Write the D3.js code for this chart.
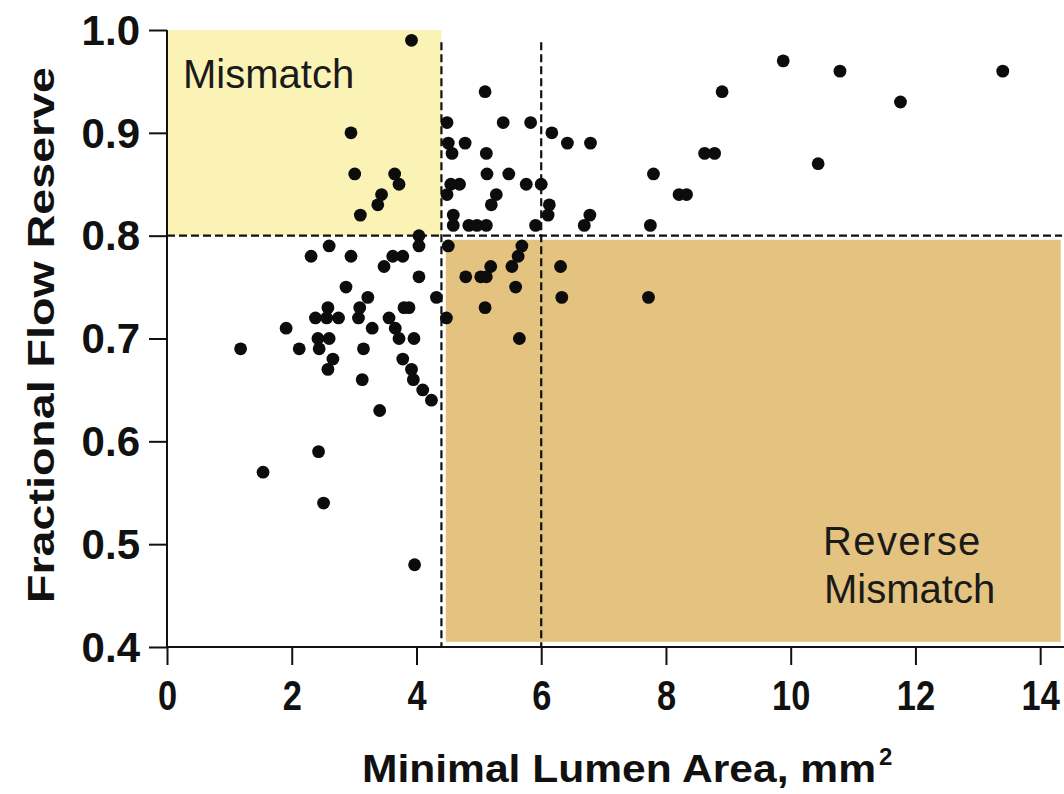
<!DOCTYPE html>
<html>
<head>
<meta charset="utf-8">
<script src="https://cdn.jsdelivr.net/npm/d3@7"></script>
<style>
  body { margin: 0; background: #fff; }
  svg { display: block; }
</style>
</head>
<body>
<div class="chart"></div>
<script>
var width = 1064
  , height = 794
  ;

// minimal lumen area (mm2) and fractional flow reserve, one entry per lesion
var mla = [
  3.92, 2.95, 3.01, 3.65, 3.72, 3.44, 3.38, 3.10, 4.04, 4.04,
  2.60, 5.10, 4.49, 5.39, 5.83, 6.17, 6.42, 6.79, 4.51, 4.78,
  4.57, 5.12, 5.13, 5.48, 7.80, 4.55, 4.69, 5.76, 6.00, 4.49,
  5.28, 5.20, 6.13, 6.78, 4.59, 6.11, 4.59, 4.84, 4.97, 5.12,
  5.91, 6.69, 7.75, 4.51, 5.69, 5.63, 3.78, 5.19, 5.53, 6.31,
  4.79, 5.03, 5.12, 4.04, 5.59, 6.33, 7.72, 4.32, 5.10, 3.80,
  3.88, 4.48, 5.65, 3.96, 2.31, 2.95, 3.62, 3.48, 2.87, 3.22,
  2.58, 3.09, 2.38, 2.56, 2.75, 3.07, 3.56, 1.91, 3.29, 3.66,
  2.42, 2.60, 3.72, 1.18, 2.12, 2.44, 3.15, 2.66, 3.78, 2.58,
  3.92, 3.13, 3.95, 4.10, 4.24, 3.41, 2.43, 1.54, 2.51, 3.97,
  9.88, 10.79, 13.40, 8.90, 11.76, 8.62, 8.78, 10.44, 8.21, 8.33
];
var ffr = [
  0.99, 0.90, 0.86, 0.86, 0.85, 0.84, 0.83, 0.82, 0.80, 0.79,
  0.79, 0.94, 0.91, 0.91, 0.91, 0.90, 0.89, 0.89, 0.89, 0.89,
  0.88, 0.88, 0.86, 0.86, 0.86, 0.85, 0.85, 0.85, 0.85, 0.84,
  0.84, 0.83, 0.83, 0.82, 0.82, 0.82, 0.81, 0.81, 0.81, 0.81,
  0.81, 0.81, 0.81, 0.79, 0.79, 0.78, 0.78, 0.77, 0.77, 0.77,
  0.76, 0.76, 0.76, 0.76, 0.75, 0.74, 0.74, 0.74, 0.73, 0.73,
  0.73, 0.72, 0.70, 0.70, 0.78, 0.78, 0.78, 0.77, 0.75, 0.74,
  0.73, 0.73, 0.72, 0.72, 0.72, 0.72, 0.72, 0.71, 0.71, 0.71,
  0.70, 0.70, 0.70, 0.69, 0.69, 0.69, 0.69, 0.68, 0.68, 0.67,
  0.67, 0.66, 0.66, 0.65, 0.64, 0.63, 0.59, 0.57, 0.54, 0.48,
  0.97, 0.96, 0.96, 0.94, 0.93, 0.88, 0.88, 0.87, 0.84, 0.84
];

var xTicks = [0, 2, 4, 6, 8, 10, 12, 14];
var yTicks = [0.4, 0.5, 0.6, 0.7, 0.8, 0.9, 1.0];

// shaded zones: [x0, x1, y0, y1] in data units
var mismatchZone = [0, 4.4, 0.8, 1.0];
var reverseZone = [4.47, 14.33, 0.405, 0.796];
var cutoffMla = [4.4, 6.0];
var cutoffFfr = 0.8;

var x = d3.scaleLinear().domain([0, 14.35]).range([167, 1062]);
var y = d3.scaleLinear().domain([0.4, 1.0]).range([647, 30]);

var svg = d3.select(".chart").append("svg")
  .attr("width", width)
  .attr("height", height);

function zone(z, fill) {
  svg.append("rect")
    .attr("x", x(z[0]))
    .attr("y", y(z[3]))
    .attr("width", x(z[1]) - x(z[0]))
    .attr("height", y(z[2]) - y(z[3]))
    .attr("fill", fill);
}
zone(mismatchZone, "#fbf3b6");
zone(reverseZone, "#e4c27f");

// dashed cutoff lines
svg.selectAll(".vcut")
  .data(cutoffMla)
  .enter().append("line")
    .attr("x1", function(d) { return x(d); })
    .attr("x2", function(d) { return x(d); })
    .attr("y1", y(0.988))
    .attr("y2", y(0.4))
    .attr("stroke", "#111")
    .attr("stroke-width", 2.2)
    .attr("stroke-dasharray", "8,4");

svg.append("line")
  .attr("x1", x(0))
  .attr("x2", x(14.35))
  .attr("y1", y(cutoffFfr))
  .attr("y2", y(cutoffFfr))
  .attr("stroke", "#111")
  .attr("stroke-width", 2.2)
  .attr("stroke-dasharray", "8,4");

// points
svg.selectAll("circle")
  .data(d3.range(mla.length))
  .enter().append("circle")
    .attr("cx", function(i) { return x(mla[i]); })
    .attr("cy", function(i) { return y(ffr[i]); })
    .attr("r", 6.4)
    .attr("fill", "#0c0c0c");

// axes
var xAxis = svg.append("g")
  .attr("transform", "translate(0," + y(0.4) + ")")
  .call(d3.axisBottom(x).tickValues(xTicks).tickSize(18).tickPadding(14).tickFormat(d3.format("d")));
xAxis.select(".domain").attr("d", "M" + x(0) + ",0H" + width);

var yAxis = svg.append("g")
  .attr("transform", "translate(" + x(0) + ",0)")
  .call(d3.axisLeft(y).tickValues(yTicks).tickSize(18).tickPadding(9).tickFormat(d3.format(".1f")));
yAxis.select(".domain").attr("d", "M0," + y(1.0) + "V" + y(0.4));

svg.selectAll(".domain, .tick line")
  .attr("stroke", "#111")
  .attr("stroke-width", 2);

// x labels are condensed in the original
xAxis.selectAll("text")
  .attr("font-family", "'Liberation Sans', Arial, sans-serif")
  .attr("font-weight", "bold")
  .attr("font-size", 43)
  .attr("transform", "scale(0.8,1)")
  .attr("fill", "#111");

yAxis.selectAll("text")
  .attr("font-family", "'Liberation Sans', Arial, sans-serif")
  .attr("font-weight", "bold")
  .attr("font-size", 42)
  .attr("dy", "0.34em")
  .attr("fill", "#111");

// axis titles
svg.append("text")
  .attr("x", 362)
  .attr("y", 782)
  .attr("font-family", "'Liberation Sans', Arial, sans-serif")
  .attr("font-weight", "bold")
  .attr("font-size", 38)
  .attr("textLength", 514)
  .attr("lengthAdjust", "spacingAndGlyphs")
  .attr("fill", "#111")
  .text("Minimal Lumen Area, mm");

svg.append("text")
  .attr("x", 879)
  .attr("y", 765)
  .attr("font-family", "'Liberation Sans', Arial, sans-serif")
  .attr("font-weight", "bold")
  .attr("font-size", 24)
  .attr("fill", "#111")
  .text("2");

svg.append("text")
  .attr("transform", "translate(54,335)rotate(-90)")
  .attr("text-anchor", "middle")
  .attr("font-family", "'Liberation Sans', Arial, sans-serif")
  .attr("font-weight", "bold")
  .attr("font-size", 36)
  .attr("textLength", 536)
  .attr("lengthAdjust", "spacingAndGlyphs")
  .attr("fill", "#111")
  .text("Fractional Flow Reserve");

// zone labels
var labelFont = "'Liberation Sans', Arial, sans-serif";
svg.append("text")
  .attr("x", 183)
  .attr("y", 88)
  .attr("font-family", labelFont)
  .attr("font-size", 40)
  .attr("fill", "#1a1a1a")
  .text("Mismatch");

svg.append("text")
  .attr("x", 823)
  .attr("y", 555)
  .attr("font-family", labelFont)
  .attr("font-size", 40)
  .attr("letter-spacing", 1.4)
  .attr("fill", "#1a1a1a")
  .text("Reverse");

svg.append("text")
  .attr("x", 824)
  .attr("y", 603)
  .attr("font-family", labelFont)
  .attr("font-size", 40)
  .attr("fill", "#1a1a1a")
  .text("Mismatch");
</script>
</body>
</html>
